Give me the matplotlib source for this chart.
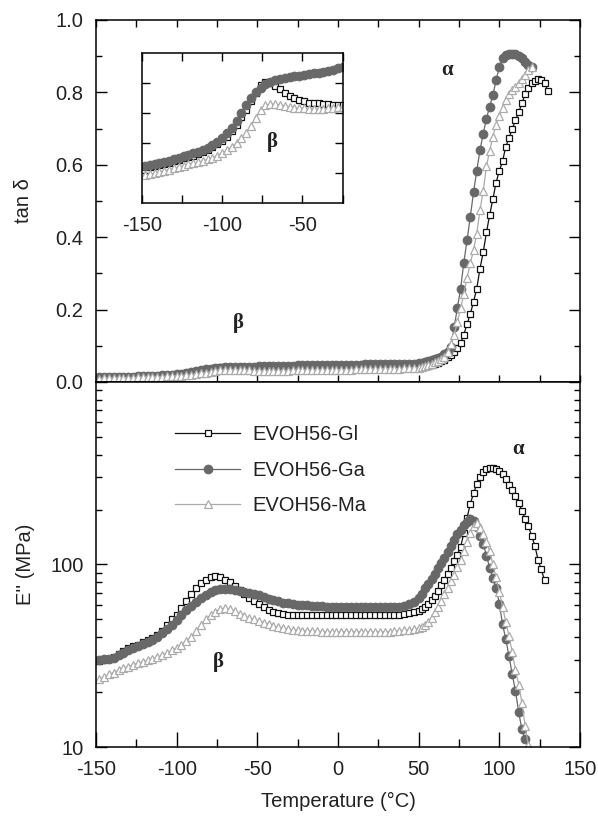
import numpy as np
import matplotlib
matplotlib.use("Agg")
import matplotlib.pyplot as plt
from matplotlib.ticker import MultipleLocator, FixedLocator, NullFormatter, LogLocator

plt.rcParams['font.family'] = ['Liberation Sans', 'DejaVu Sans']
plt.rcParams['axes.unicode_minus'] = False

# low temperature scans, every 3 degC from -148 to 47
t_low = np.arange(-148, 48, 3)

tan_gl_low = [0.0120, 0.0122, 0.0125, 0.0128, 0.0131, 0.0135, 0.0140, 0.0144, 0.0149, 0.0154,
              0.0159, 0.0165, 0.0171, 0.0178, 0.0187, 0.0197, 0.0208, 0.0222, 0.0240, 0.0262,
              0.0287, 0.0310, 0.0340, 0.0368, 0.0395, 0.0405, 0.0402, 0.0392, 0.0380, 0.0369,
              0.0359, 0.0352, 0.0345, 0.0340, 0.0336, 0.0334, 0.0333, 0.0332, 0.0331, 0.0329,
              0.0328, 0.0329, 0.0331, 0.0334, 0.0337, 0.0340, 0.0343, 0.0346, 0.0349, 0.0352,
              0.0355, 0.0358, 0.0361, 0.0364, 0.0367, 0.0370, 0.0373, 0.0376, 0.0379, 0.0382,
              0.0385, 0.0388, 0.0391, 0.0394, 0.0397, 0.0400]
tan_ga_low = [0.0124, 0.0127, 0.0130, 0.0134, 0.0138, 0.0142, 0.0147, 0.0151, 0.0156, 0.0161,
              0.0166, 0.0172, 0.0179, 0.0185, 0.0194, 0.0205, 0.0217, 0.0233, 0.0251, 0.0275,
              0.0301, 0.0328, 0.0352, 0.0371, 0.0385, 0.0398, 0.0406, 0.0411, 0.0415, 0.0419,
              0.0422, 0.0424, 0.0426, 0.0428, 0.0430, 0.0433, 0.0436, 0.0438, 0.0441, 0.0445,
              0.0450, 0.0456, 0.0458, 0.0460, 0.0462, 0.0464, 0.0466, 0.0468, 0.0470, 0.0472,
              0.0474, 0.0476, 0.0478, 0.0480, 0.0482, 0.0484, 0.0486, 0.0488, 0.0490, 0.0492,
              0.0494, 0.0496, 0.0498, 0.0500, 0.0502, 0.0505]
tan_ma_low = [0.0095, 0.0097, 0.0100, 0.0104, 0.0108, 0.0112, 0.0117, 0.0121, 0.0125, 0.0129,
              0.0133, 0.0137, 0.0141, 0.0146, 0.0152, 0.0158, 0.0167, 0.0176, 0.0187, 0.0200,
              0.0216, 0.0235, 0.0258, 0.0285, 0.0310, 0.0326, 0.0331, 0.0331, 0.0328, 0.0325,
              0.0321, 0.0318, 0.0317, 0.0316, 0.0315, 0.0314, 0.0313, 0.0314, 0.0316, 0.0317,
              0.0320, 0.0322, 0.0324, 0.0326, 0.0328, 0.0330, 0.0332, 0.0334, 0.0336, 0.0338,
              0.0340, 0.0342, 0.0344, 0.0346, 0.0348, 0.0350, 0.0352, 0.0355, 0.0358, 0.0361,
              0.0364, 0.0367, 0.0370, 0.0373, 0.0377, 0.0382]

# alpha relaxation region, every 2 degC from 50
t_gl_hi = np.arange(50, 131, 2)
t_ga_hi = np.arange(50, 121, 2)
t_ma_hi = np.arange(50, 121, 2)
tan_gl_hi = [0.041, 0.042, 0.043, 0.045, 0.047, 0.050, 0.053, 0.057, 0.062, 0.068,
             0.075, 0.083, 0.094, 0.108, 0.131, 0.160, 0.188, 0.221, 0.258, 0.313,
             0.358, 0.413, 0.461, 0.505, 0.551, 0.583, 0.610, 0.650, 0.674, 0.699,
             0.723, 0.745, 0.770, 0.795, 0.812, 0.826, 0.832, 0.836, 0.833, 0.827,
             0.805]
tan_ga_hi = [0.052, 0.053, 0.055, 0.057, 0.060, 0.063, 0.066, 0.070, 0.076, 0.084,
             0.097, 0.152, 0.204, 0.258, 0.330, 0.392, 0.456, 0.524, 0.583, 0.640,
             0.686, 0.727, 0.761, 0.792, 0.834, 0.870, 0.894, 0.904, 0.907, 0.907,
             0.906, 0.901, 0.895, 0.885, 0.877, 0.870]
tan_ma_hi = [0.039, 0.041, 0.043, 0.046, 0.050, 0.054, 0.059, 0.064, 0.070, 0.082,
             0.105, 0.130, 0.165, 0.203, 0.243, 0.288, 0.328, 0.364, 0.410, 0.475,
             0.527, 0.596, 0.638, 0.678, 0.711, 0.736, 0.758, 0.780, 0.795, 0.807,
             0.816, 0.827, 0.837, 0.848, 0.862, 0.869]

# loss modulus E'' (MPa)
e_gl_low = [29.5, 29.8, 30.4, 31.2, 32.2, 33.5, 35.0, 35.8, 36.4, 37.4,
            38.5, 39.6, 40.9, 43.0, 46.5, 50.0, 53.1, 57.5, 63.0, 68.5,
            74.0, 79.3, 82.5, 85.0, 86.3, 85.5, 82.7, 79.8, 76.5, 72.6,
            69.0, 65.6, 62.8, 60.4, 58.2, 56.4, 54.9, 53.9, 53.3, 53.0,
            52.9, 52.8, 52.8, 52.7, 52.7, 52.7, 52.6, 52.6, 52.6, 52.6,
            52.6, 52.6, 52.6, 52.6, 52.6, 52.6, 52.6, 52.6, 52.6, 52.7,
            52.8, 53.0, 53.2, 53.6, 54.2, 55.0]
e_ga_low = [30.0, 30.3, 30.5, 30.9, 31.8, 32.9, 34.1, 35.0, 35.9, 36.8,
            37.7, 38.7, 40.2, 42.0, 44.1, 46.8, 49.9, 53.1, 56.4, 59.3,
            62.3, 65.6, 68.2, 70.5, 72.4, 73.4, 73.8, 73.4, 72.6, 71.7,
            70.8, 69.9, 69.0, 68.0, 66.7, 65.0, 63.7, 62.7, 61.8, 61.2,
            60.6, 60.3, 60.0, 59.7, 59.4, 59.2, 59.0, 58.8, 58.7, 58.6,
            58.5, 58.4, 58.3, 58.3, 58.3, 58.3, 58.3, 58.3, 58.3, 58.3,
            58.4, 58.5, 58.8, 59.4, 60.5, 62.0]
e_ma_low = [23.5, 24.2, 25.0, 25.6, 26.3, 27.0, 27.6, 28.2, 28.8, 29.3,
            29.8, 30.4, 31.0, 31.8, 32.8, 33.8, 34.9, 36.2, 37.9, 40.3,
            43.3, 46.8, 50.0, 52.8, 55.0, 57.2, 57.6, 56.8, 55.6, 53.6,
            52.2, 50.9, 50.0, 49.2, 48.1, 47.2, 46.2, 45.4, 44.8, 44.2,
            43.8, 43.6, 43.4, 43.2, 43.1, 43.0, 42.9, 42.9, 42.8, 42.8,
            42.8, 42.8, 42.8, 42.8, 42.8, 42.8, 42.8, 42.8, 42.8, 42.8,
            42.9, 43.0, 43.2, 43.5, 43.9, 44.3]

te_gl_hi = np.arange(50, 129, 2)
te_ga_hi = np.arange(50, 117, 2)
te_ma_hi = np.arange(50, 119, 2)
e_gl_hi = [55.8, 56.7, 58.2, 60.6, 64.0, 67.6, 71.8, 76.8, 82.3, 88.5,
           96.0, 104, 113, 125, 148, 180, 215, 245, 276, 301,
           320, 332, 336, 336, 333, 326, 315, 295, 274, 255,
           238, 218, 197, 178, 162, 144, 127, 106, 94, 82]
e_ga_hi = [65.5, 69.0, 74.0, 78.0, 83.0, 89.0, 96.0, 102, 109, 117,
           126, 136, 146, 155, 164, 172, 177, 174, 160, 143,
           130, 112, 96, 84, 74, 61, 47, 39, 31.5, 25,
           20.3, 15.5, 12.5, 11.0]
e_ma_hi = [44.6, 45.3, 46.6, 48.6, 51.2, 54.6, 58.2, 63.0, 68.5, 74.0,
           81.0, 87.5, 97.0, 106, 118, 132, 149, 163, 168, 159,
           146, 133, 119, 100, 85, 71, 58.5, 48.5, 40.5, 33.0,
           26.4, 22.0, 17.5, 13.0, 10.2]

labels = ['EVOH56-Gl', 'EVOH56-Ga', 'EVOH56-Ma']

# marker styles per sample
styles = [
    dict(marker='s', ms=5.0, mfc='white', mec='#111111', color='#111111', mew=0.9, lw=0.9),
    dict(marker='o', ms=6.2, mfc='#686868', mec='#686868', color='#686868', mew=0.8, lw=0.9),
    dict(marker='^', ms=6.2, mfc='white', mec='#ababab', color='#ababab', mew=0.9, lw=0.9),
]

FS = 14.5
TXT = '#222222'


def style_axes(ax, major=8, minor=4.5):
    ax.tick_params(which='both', direction='in', top=True, right=True,
                   labelsize=FS, labelcolor=TXT, width=1.0, pad=9)
    ax.tick_params(which='major', length=major)
    ax.tick_params(which='minor', length=minor)
    for s in ax.spines.values():
        s.set_linewidth(1.1)


fig = plt.figure(figsize=(5.98, 8.19), dpi=100)
ax1 = fig.add_axes([0.1605, 0.5336, 0.8094, 0.4420])
ax2 = fig.add_axes([0.1605, 0.0879, 0.8094, 0.4457])

tan_t = [np.concatenate([t_low, t_gl_hi]), np.concatenate([t_low, t_ga_hi]),
         np.concatenate([t_low, t_ma_hi])]
tan_v = [tan_gl_low + tan_gl_hi, tan_ga_low + tan_ga_hi, tan_ma_low + tan_ma_hi]
e_t = [np.concatenate([t_low, te_gl_hi]), np.concatenate([t_low, te_ga_hi]),
       np.concatenate([t_low, te_ma_hi])]
e_v = [e_gl_low + e_gl_hi, e_ga_low + e_ga_hi, e_ma_low + e_ma_hi]

# --- tan delta ---
for t, v, st in zip(tan_t, tan_v, styles):
    ax1.plot(t, v, **st)
ax1.set_xlim(-150, 150)
ax1.set_ylim(0, 1.0)
ax1.xaxis.set_major_locator(MultipleLocator(50))
ax1.xaxis.set_minor_locator(MultipleLocator(25))
ax1.yaxis.set_major_locator(MultipleLocator(0.2))
ax1.yaxis.set_minor_locator(MultipleLocator(0.1))
ax1.yaxis.set_major_formatter(matplotlib.ticker.FormatStrFormatter('%.1f'))
style_axes(ax1)
ax1.tick_params(axis='x', which='both', labelbottom=False, length=5)
ax1.set_ylabel('tan δ', fontsize=FS, color=TXT)
ax1.yaxis.set_label_coords(-0.130, 0.5)
ax1.text(67.6, 0.862, 'α', fontsize=15, fontweight='bold', family='Liberation Serif',
         ha='center', va='center', color=TXT)
ax1.text(-62, 0.163, 'β', fontsize=15, fontweight='bold', family='Liberation Serif',
         ha='center', va='center', color=TXT)

# inset: beta region of tan delta
axin = fig.add_axes([0.237, 0.752, 0.336, 0.1828])
for v, st in zip([tan_gl_low, tan_ga_low, tan_ma_low], styles):
    axin.plot(t_low, v, **st)
axin.set_xlim(-150, -25)
axin.set_ylim(0, 0.05)
axin.xaxis.set_major_locator(MultipleLocator(50))
axin.xaxis.set_minor_locator(MultipleLocator(25))
axin.yaxis.set_major_locator(FixedLocator([0.01, 0.02, 0.03, 0.04]))
axin.yaxis.set_major_formatter(NullFormatter())
style_axes(axin, major=6, minor=6)
axin.tick_params(axis='y', which='major', length=6)
axin.tick_params(axis='x', which='both', top=True, length=6)
axin.text(-68.6, 0.0203, 'β', fontsize=15, fontweight='bold', family='Liberation Serif',
          ha='center', va='center', color=TXT)

# --- loss modulus ---
lines = []
for t, v, st, lab in zip(e_t, e_v, styles, labels):
    ln, = ax2.plot(t, v, label=lab, **st)
    lines.append(ln)
ax2.set_yscale('log')
ax2.set_xlim(-150, 150)
ax2.set_ylim(10, 1000)
ax2.xaxis.set_major_locator(MultipleLocator(50))
ax2.xaxis.set_minor_locator(MultipleLocator(25))
ax2.yaxis.set_major_locator(FixedLocator([10, 100, 1000]))
ax2.yaxis.set_major_formatter(matplotlib.ticker.FixedFormatter(['10', '100', '']))
ax2.yaxis.set_minor_locator(LogLocator(base=10, subs=np.arange(2, 10)))
ax2.yaxis.set_minor_formatter(NullFormatter())
style_axes(ax2)
ax2.tick_params(axis='x', which='both', top=False)
ax2.tick_params(axis='x', which='major', length=11)
ax2.tick_params(axis='x', which='minor', length=6)
ax2.set_ylabel("E'' (MPa)", fontsize=FS, color=TXT)
ax2.yaxis.set_label_coords(-0.127, 0.5)
ax2.set_xlabel('Temperature (°C)', fontsize=FS, color=TXT)
ax2.xaxis.set_label_coords(0.5, -0.123)
ax2.text(111.6, 428, 'α', fontsize=15, fontweight='bold', family='Liberation Serif',
         ha='center', va='center', color=TXT)
ax2.text(-74.4, 29.3, 'β', fontsize=15, fontweight='bold', family='Liberation Serif',
         ha='center', va='center', color=TXT)

leg = ax2.legend(handles=lines, loc='upper left', bbox_to_anchor=(0.163, 0.882),
                 frameon=False, fontsize=FS, numpoints=1, handlelength=3.25,
                 handletextpad=0.6, labelspacing=0.82, borderpad=0, borderaxespad=0)
for t in leg.get_texts():
    t.set_color(TXT)

fig.savefig('out.png', dpi=100)
